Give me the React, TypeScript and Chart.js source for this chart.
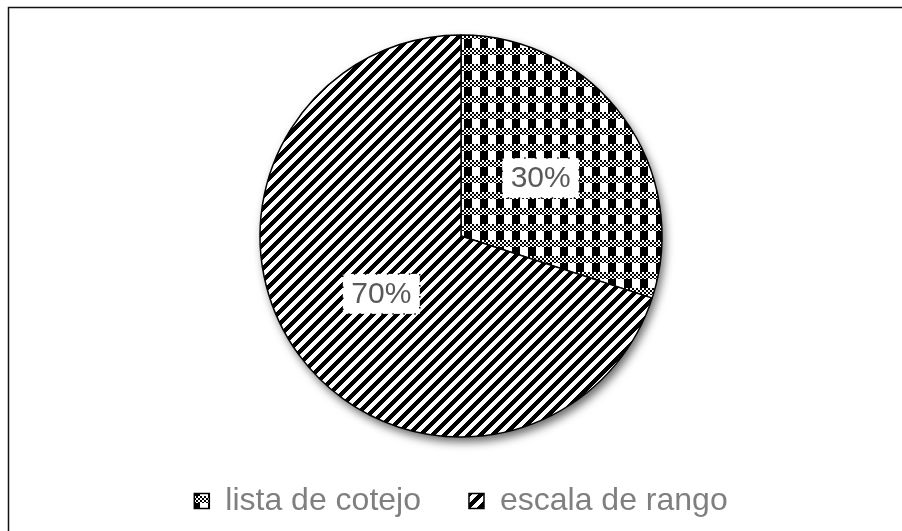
import React, { useEffect, useRef } from "react";
import { Chart, registerables } from "chart.js";

Chart.register(...registerables);

const categories = ["lista de cotejo", "escala de rango"];
const values = [30, 70];
const valueLabels = ["30%", "70%"];

function makeChecker(): CanvasPattern | string {
  const c = document.createElement("canvas");
  c.width = 16;
  c.height = 16;
  const g = c.getContext("2d");
  if (!g) return "#000";
  g.fillStyle = "#fff";
  g.fillRect(0, 0, 16, 16);
  g.fillStyle = "#000";
  for (let y = 0; y < 16; y++) {
    for (let x = 0; x < 16; x++) {
      let black = false;
      if (y < 7) {
        black = (Math.floor(x / 2) + Math.floor(y / 2)) % 2 === 0;
      } else {
        black = x < 8;
      }
      if (black) g.fillRect(x, y, 1, 1);
    }
  }
  const p = g.createPattern(c, "repeat");
  return p || "#000";
}

function makeStripes(): CanvasPattern | string {
  const n = 12;
  const c = document.createElement("canvas");
  c.width = n;
  c.height = n;
  const g = c.getContext("2d");
  if (!g) return "#000";
  g.fillStyle = "#fff";
  g.fillRect(0, 0, n, n);
  g.fillStyle = "#000";
  for (let y = 0; y < n; y++) {
    for (let x = 0; x < n; x++) {
      if ((x + y) % n < 6) g.fillRect(x, y, 1, 1);
    }
  }
  const p = g.createPattern(c, "repeat");
  return p || "#000";
}

const framePlugin = {
  id: "frame",
  beforeDraw(chart: any) {
    const ctx = chart.ctx;
    ctx.save();
    ctx.fillStyle = "#fff";
    ctx.fillRect(0, 0, chart.width, chart.height);
    ctx.strokeStyle = "#111";
    ctx.lineWidth = 1.5;
    ctx.strokeRect(8.5, 7.5, 1200, 1200);
    ctx.restore();
  },
};

const shadowPlugin = {
  id: "pieShadow",
  beforeDatasetsDraw(chart: any) {
    const meta = chart.getDatasetMeta(0);
    const arc = meta.data[0];
    if (!arc) return;
    const ctx = chart.ctx;
    ctx.save();
    ctx.shadowColor = "rgba(0,0,0,0.6)";
    ctx.shadowBlur = 10;
    ctx.shadowOffsetX = 3;
    ctx.shadowOffsetY = 5;
    ctx.fillStyle = "#fff";
    ctx.beginPath();
    ctx.arc(arc.x, arc.y, arc.outerRadius, 0, Math.PI * 2);
    ctx.fill();
    ctx.restore();
  },
};

const labelPlugin = {
  id: "boxLabels",
  afterDatasetsDraw(chart: any) {
    const meta = chart.getDatasetMeta(0);
    const ctx = chart.ctx;
    ctx.save();
    meta.data.forEach((arc: any, i: number) => {
      const mid = (arc.startAngle + arc.endAngle) / 2;
      const d = arc.outerRadius * 0.49;
      const cx = arc.x + Math.cos(mid) * d;
      const cy = arc.y + Math.sin(mid) * d;
      const w = 77;
      const h = 40;
      ctx.fillStyle = "#fff";
      ctx.fillRect(cx - w / 2, cy - h / 2, w, h);
      ctx.strokeStyle = "#000";
      ctx.lineWidth = 1.5;
      ctx.setLineDash([1.5, 9.5]);
      ctx.strokeRect(cx - w / 2, cy - h / 2, w, h);
      ctx.setLineDash([]);
      ctx.fillStyle = "#595959";
      ctx.font = "30px 'Liberation Sans', Arial, sans-serif";
      ctx.textAlign = "center";
      ctx.textBaseline = "middle";
      ctx.fillText(valueLabels[i], cx, cy + 1);
    });
    ctx.restore();
  },
};

export default function App() {
  const ref = useRef<HTMLCanvasElement | null>(null);

  useEffect(() => {
    document.body.style.margin = "0";
    const canvas = ref.current;
    if (!canvas) return;
    const chart = new Chart(canvas, {
      type: "pie",
      data: {
        labels: categories,
        datasets: [
          {
            data: values,
            backgroundColor: [makeChecker(), makeStripes()] as any,
            borderColor: "#000",
            borderWidth: 1.5,
            radius: 201,
          } as any,
        ],
      },
      options: {
        responsive: false,
        animation: false,
        layout: { padding: { left: 20, right: 0, top: 35, bottom: 4 } },
        plugins: {
          tooltip: { enabled: false },
          legend: {
            position: "bottom",
            labels: {
              boxWidth: 15,
              boxHeight: 15,
              padding: 48,
              color: "#7f7f7f",
              font: { size: 32, family: "'Liberation Sans', Arial, sans-serif" },
            },
          },
        },
      },
      plugins: [framePlugin, shadowPlugin, labelPlugin],
    });
    return () => chart.destroy();
  }, []);

  return (
    <div style={{ position: "fixed", left: 0, top: 0, width: 902, height: 531 }}>
      <canvas ref={ref} width={902} height={531} style={{ width: 902, height: 531 }} />
    </div>
  );
}
